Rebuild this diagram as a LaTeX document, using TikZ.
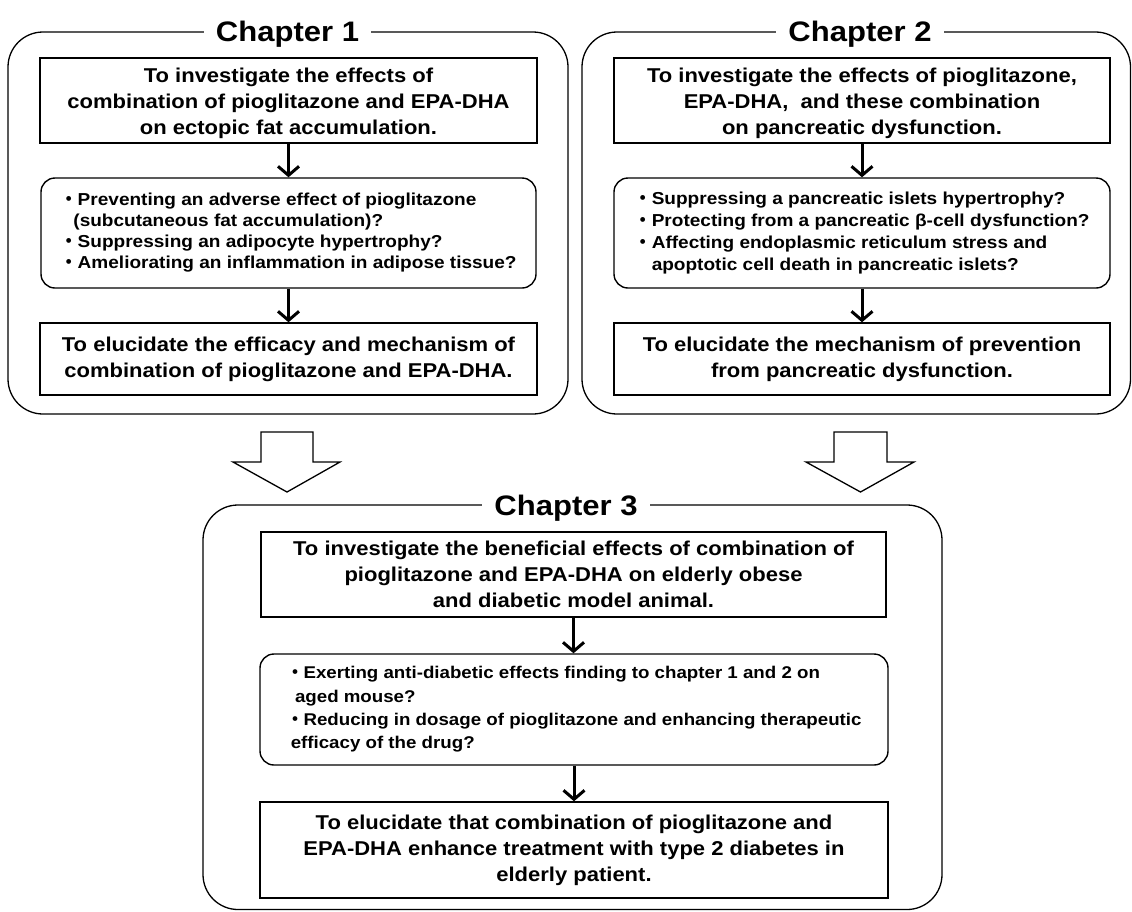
\documentclass[tikz,border=0pt]{standalone}
\usepackage{fontspec}
\setmainfont{Liberation Sans}[FakeStretch=1.1]
\newfontfamily\cjk{Noto Sans CJK JP}
\usetikzlibrary{arrows.meta}
\newcommand\bul{{\cjk ・}}
\newcommand\topstrut{\rule{0pt}{20.5pt}}
\begin{document}
\begin{tikzpicture}[x=1pt,y=-1pt,
  frame/.style={draw, line width=1.3pt, rounded corners=35pt, inner sep=0pt},
  title/.style={fill=white, inner xsep=12pt, inner ysep=2pt, anchor=base,
    font=\fontsize{28.2}{32}\selectfont\bfseries},
  mainbox/.style={draw, line width=1.4pt, align=center, inner sep=0pt,
    font=\fontsize{20}{26}\selectfont\bfseries},
  bulbox/.style={draw, line width=1.4pt, rounded corners=14pt, align=left, inner sep=0pt},
  arr/.style={line width=3pt, -{Straight Barb[length=9pt,width=21pt]}},
  hollow/.style={draw, line width=1.3pt, fill=white, line join=miter}
]
\useasboundingbox (0,0) rectangle (1132,911);

% ---------- Chapter 1 ----------
\node[frame, minimum width=560pt, minimum height=382pt] (ch1) at (288,223) {};
\node[title] (t1) at (287.5,41.5) {Chapter 1};
\node[mainbox, minimum width=497pt, minimum height=85pt] (c1a) at (288.5,100.5)
  {\topstrut To investigate the effects of\\combination of pioglitazone and EPA-DHA\\on ectopic fat accumulation.};
\node[bulbox, minimum width=495pt, minimum height=110pt,
  font=\fontsize{17.3}{21}\selectfont\bfseries] (c1b) at (288.5,233)
  {\bul Preventing an adverse effect of pioglitazone\\
   \hspace*{0.75em}(subcutaneous fat accumulation)?\\
   \bul Suppressing an adipocyte hypertrophy?\\
   \bul Ameliorating an inflammation in adipose tissue?};
\node[mainbox, minimum width=497pt, minimum height=72pt] (c1c) at (288.5,359)
  {To elucidate the efficacy and mechanism of\\combination of pioglitazone and EPA-DHA.};
\draw[arr] (c1a.south) -- (c1b.north);
\draw[arr] (c1b.south) -- (c1c.north);

% ---------- Chapter 2 ----------
\node[frame, minimum width=548.5pt, minimum height=382pt] (ch2) at (856.25,223) {};
\node[title] (t2) at (860,41.5) {Chapter 2};
\node[mainbox, minimum width=496pt, minimum height=85pt] (c2a) at (862,100.5)
  {\topstrut To investigate the effects of pioglitazone,\\EPA-DHA,\ \ and these combination\\on pancreatic dysfunction.};
\node[bulbox, minimum width=496pt, minimum height=110pt,
  font=\fontsize{17.3}{21.7}\selectfont\bfseries] (c2b) at (862,233)
  {\bul Suppressing a pancreatic islets hypertrophy?\\
   \bul Protecting from a pancreatic β-cell dysfunction?\\
   \bul Affecting endoplasmic reticulum stress and\\
   \hspace*{1em}apoptotic cell death in pancreatic islets?};
\node[mainbox, minimum width=496pt, minimum height=72pt] (c2c) at (862,359)
  {To elucidate the mechanism of prevention\\from pancreatic dysfunction.};
\draw[arr] (c2a.south) -- (c2b.north);
\draw[arr] (c2b.south) -- (c2c.north);

% ---------- hollow block arrows ----------
\draw[hollow] (261,432) -- (313,432) -- (313,462) -- (340,462) -- (287,492)
  -- (233,462) -- (261,462) -- cycle;
\draw[hollow] (834,432) -- (887,432) -- (887,462) -- (914,462) -- (860.5,492)
  -- (806,462) -- (834,462) -- cycle;

% ---------- Chapter 3 ----------
\node[frame, minimum width=739pt, minimum height=404.5pt] (ch3) at (572.5,707.25) {};
\node[title] (t3) at (566,515) {Chapter 3};
\node[mainbox, minimum width=625pt, minimum height=85pt] (c3a) at (573.5,574.5)
  {To investigate the beneficial effects of combination of\\pioglitazone and EPA-DHA on elderly obese\\and diabetic model animal.};
\node[bulbox, minimum width=628pt, minimum height=111pt,
  font=\fontsize{17}{23.3}\selectfont\bfseries] (c3b) at (574,709.5)
  {\bul Exerting anti-diabetic effects finding to chapter 1 and 2 on\\
   \hspace*{0.5em}aged mouse?\\
   \bul Reducing in dosage of pioglitazone and enhancing therapeutic\\
   \hspace*{0.25em}efficacy of the drug?};
\node[mainbox, minimum width=628pt, minimum height=96pt] (c3c) at (574,850)
  {To elucidate that combination of pioglitazone and\\EPA-DHA enhance treatment with type 2 diabetes in\\elderly patient.};
\draw[arr] (c3a.south) -- (c3a.south |- c3b.north);
\draw[arr] (c3b.south) -- (c3b.south |- c3c.north);
\end{tikzpicture}
\end{document}
